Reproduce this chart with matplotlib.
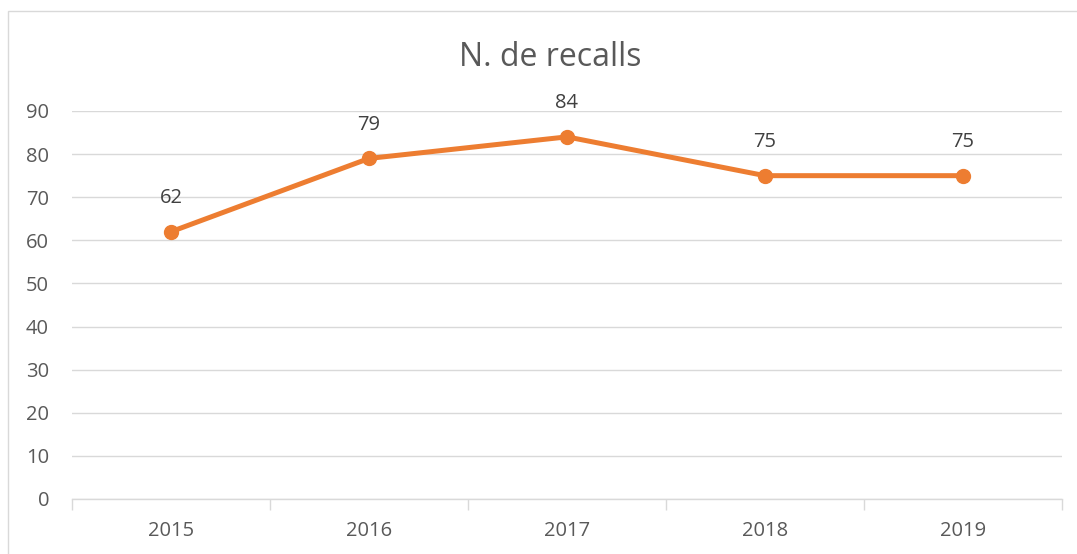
import matplotlib

matplotlib.use("Agg")
import matplotlib.pyplot as plt  # noqa: E402
from matplotlib.patches import Rectangle  # noqa: E402

# --- data ---------------------------------------------------------------
years = ["2015", "2016", "2017", "2018", "2019"]
recalls = [62, 79, 84, 75, 75]
y_ticks = [0, 10, 20, 30, 40, 50, 60, 70, 80, 90]

TEXT = "#595959"
LABEL = "#404040"
GRID = "#d9d9d9"
ORANGE = "#ED7D31"

plt.rcParams["font.family"] = ["Open Sans", "DejaVu Sans"]

fig = plt.figure(figsize=(10.77, 5.54), dpi=100)

# chart-area border (cut off at right and bottom like the source)
fig.patches.append(Rectangle((8 / 1077, -0.1), 1.2, (554 - 11) / 554 + 0.1,
                             transform=fig.transFigure, fill=False,
                             edgecolor=GRID, linewidth=1.0))

ax = fig.add_axes([72 / 1077, 55 / 554, 990 / 1077, 388 / 554])

x = list(range(len(years)))
ax.plot(x, recalls, "-o", color=ORANGE, linewidth=3.6, markersize=10,
        solid_capstyle="round", zorder=3)
for xi, v in zip(x, recalls):
    ax.annotate(str(v), (xi, v), xytext=(0, 17), textcoords="offset points",
                ha="center", va="bottom", fontsize=14.5, color=LABEL)

ax.set_xlim(-0.5, len(years) - 0.5)
ax.set_ylim(0, 90)
ax.set_yticks(y_ticks)
ax.set_xticks(x)
ax.set_xticklabels(years)
ax.grid(axis="y", color=GRID, linewidth=1.0)
ax.set_axisbelow(True)

for side in ("top", "right", "left"):
    ax.spines[side].set_visible(False)
ax.spines["bottom"].set_color(GRID)
ax.spines["bottom"].set_linewidth(1.0)

ax.tick_params(axis="y", length=0, pad=16.5, labelsize=14.5, labelcolor=TEXT)
ax.tick_params(axis="x", length=0, pad=16, labelsize=14.5, labelcolor=TEXT)

# category boundary tick marks on the x axis
bounds = [i - 0.5 for i in range(len(years) + 1)]
ax.set_xticks(bounds, minor=True)
ax.tick_params(axis="x", which="minor", length=8, color=GRID, width=1.0)

fig.text(550 / 1077, 1 - 58 / 554, "N. de recalls", ha="center", va="center",
         fontsize=23, color=TEXT)

fig.savefig("out.png", dpi=100)
